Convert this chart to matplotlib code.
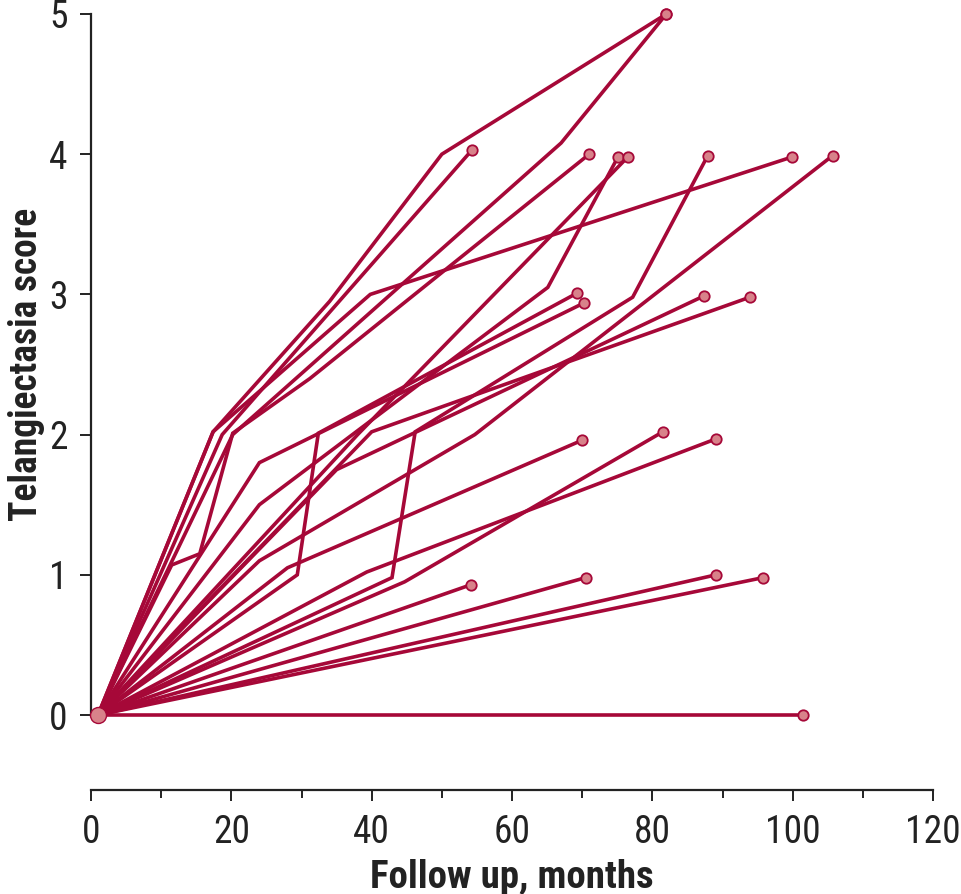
import matplotlib
matplotlib.use("Agg")
import matplotlib.pyplot as plt
from matplotlib.ticker import MultipleLocator
from matplotlib import font_manager

# ---- data: each patient's follow-up months and telangiectasia scores ----
months_01 = [1, 17.4, 34, 50, 82]
score_01 = [0, 2.02, 2.95, 4.0, 5.0]
months_02 = [1, 20.2, 67, 82]
score_02 = [0, 2.0, 4.08, 5.0]
months_03 = [1, 18.7, 54.3]
score_03 = [0, 2.0, 4.03]
months_04 = [1, 11.5, 15.5, 20.2, 31.2, 71]
score_04 = [0, 1.07, 1.15, 2.01, 2.4, 4.0]
months_05 = [1, 24, 65.1, 75.1]
score_05 = [0, 1.5, 3.05, 3.98]
months_06 = [1, 42.9, 46.2, 77.2, 87.9]
score_06 = [0, 0.98, 2.02, 2.98, 3.99]
months_07 = [1, 38, 76.5]
score_07 = [0, 2.0, 3.98]
months_08 = [1, 17.4, 39.8, 99.9]
score_08 = [0, 2.02, 3.0, 3.98]
months_09 = [1, 24, 54.7, 105.7]
score_09 = [0, 1.1, 2.0, 3.99]
months_10 = [1, 29.4, 32.4, 69.3]
score_10 = [0, 1.0, 2.01, 3.01]
months_11 = [1, 24, 70.3]
score_11 = [0, 1.8, 2.94]
months_12 = [1, 35, 87.4]
score_12 = [0, 1.75, 2.99]
months_13 = [1, 40, 93.9]
score_13 = [0, 2.02, 2.98]
months_14 = [1, 28, 70]
score_14 = [0, 1.05, 1.96]
months_15 = [1, 44.7, 81.5]
score_15 = [0, 0.95, 2.02]
months_16 = [1, 39.3, 89.1]
score_16 = [0, 1.02, 1.97]
months_17 = [1, 54.2]
score_17 = [0, 0.93]
months_18 = [1, 70.5]
score_18 = [0, 0.98]
months_19 = [1, 89.1]
score_19 = [0, 1.0]
months_20 = [1, 95.8]
score_20 = [0, 0.98]
months_21 = [1, 101.5]
score_21 = [0, 0.0]

x_ticks = [0, 20, 40, 60, 80, 100, 120]
y_ticks = [0, 1, 2, 3, 4, 5]
x_label = "Follow up, months"
y_label = "Telangiectasia score"

series = [
    (months_01, score_01), (months_02, score_02), (months_03, score_03),
    (months_04, score_04), (months_05, score_05), (months_06, score_06),
    (months_07, score_07), (months_08, score_08), (months_09, score_09),
    (months_10, score_10), (months_11, score_11), (months_12, score_12),
    (months_13, score_13), (months_14, score_14), (months_15, score_15),
    (months_16, score_16), (months_17, score_17), (months_18, score_18),
    (months_19, score_19), (months_20, score_20), (months_21, score_21),
]

# ---- style ----
avail = {f.name for f in font_manager.fontManager.ttflist}
fam = ["Roboto Condensed", "Liberation Sans Narrow", "Liberation Sans", "DejaVu Sans"]
fam = [f for f in fam if f in avail] or ["DejaVu Sans"]
plt.rcParams["font.family"] = fam

LINE = "#A60838"
FACE = "#D8828A"
INK = "#222222"

fig = plt.figure(figsize=(9.61, 8.94), dpi=100)
ax = fig.add_axes([91 / 961, 179 / 894, 842 / 961, 701 / 894])

for xs, ys in series:
    ax.plot(xs, ys, color=LINE, lw=2.6, solid_capstyle="round",
            solid_joinstyle="miter", clip_on=False, zorder=2)
    ax.plot(xs[-1], ys[-1], "o", ms=7.5, mfc=FACE, mec=LINE, mew=1.3,
            clip_on=False, zorder=3)

ax.plot(months_01[0], score_01[0], "o", ms=11.5, mfc=FACE, mec=LINE, mew=1.0,
        clip_on=False, zorder=4)

ax.set_xlim(0, 120)
ax.set_ylim(0, 5)
ax.set_xticks(x_ticks)
ax.set_yticks(y_ticks)
ax.xaxis.set_minor_locator(MultipleLocator(10))

for s in ["top", "right"]:
    ax.spines[s].set_visible(False)
ax.spines["bottom"].set_position(("outward", 54))
for s in ["left", "bottom"]:
    ax.spines[s].set_linewidth(1.6)
    ax.spines[s].set_color(INK)

ax.tick_params(axis="both", which="major", length=8, width=1.4,
               labelsize=27, color=INK, labelcolor=INK)
ax.tick_params(axis="x", which="major", pad=9)
ax.tick_params(axis="y", which="major", pad=9)
ax.tick_params(axis="x", which="minor", length=5.5, width=1.4, color=INK)

ax.set_xlabel(x_label, fontsize=28, fontweight="bold", color=INK,
              labelpad=6)
ax.set_ylabel(y_label, fontsize=27, fontweight="bold", color=INK,
              labelpad=3)

fig.savefig("out.png", dpi=100)
